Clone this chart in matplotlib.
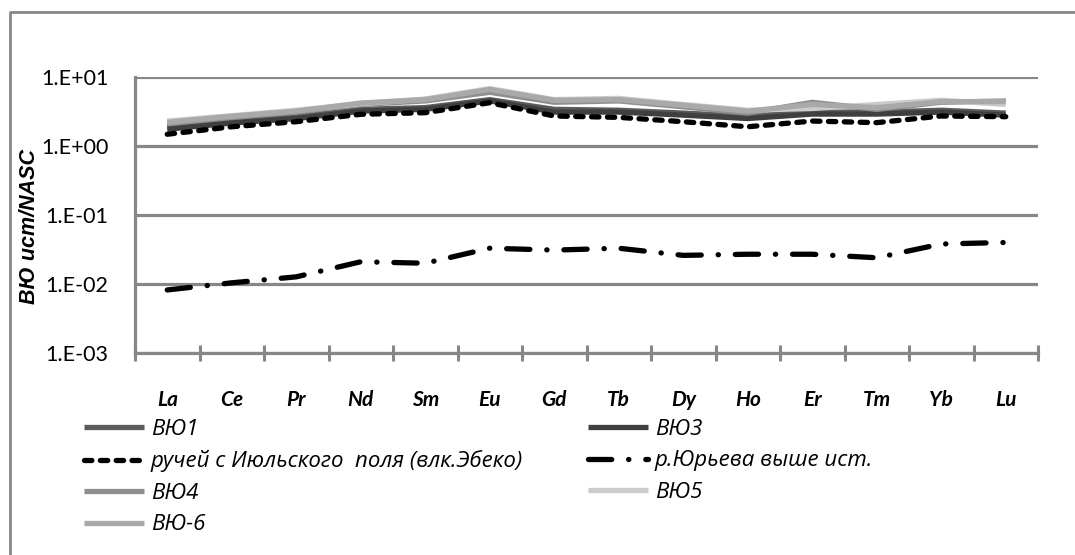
import matplotlib
matplotlib.use("Agg")
import matplotlib.pyplot as plt
from matplotlib.lines import Line2D
import numpy as np

categories = ["La", "Ce", "Pr", "Nd", "Sm", "Eu", "Gd", "Tb", "Dy", "Ho", "Er", "Tm", "Yb", "Lu"]

vyu1 = [1.9, 2.25, 2.65, 3.4, 3.6, 4.7, 3.4, 3.3, 3.0, 2.7, 3.1, 3.1, 3.3, 3.0]
vyu3 = [1.75, 2.15, 2.5, 3.2, 3.4, 4.5, 3.1, 3.1, 2.8, 2.5, 2.9, 2.9, 3.1, 2.8]
ruchey = [1.48, 1.9, 2.25, 2.88, 3.04, 4.24, 2.72, 2.6, 2.25, 1.9, 2.3, 2.18, 2.72, 2.66]
yurieva = [0.0082, 0.0104, 0.0127, 0.021, 0.020, 0.033, 0.031, 0.033, 0.026, 0.027, 0.027, 0.024, 0.038, 0.040]
vyu4 = [2.1, 2.6, 3.1, 4.0, 4.5, 6.0, 4.3, 4.5, 3.7, 3.0, 4.3, 3.4, 4.3, 4.5]
vyu5 = [2.3, 2.75, 3.3, 4.1, 4.8, 6.8, 4.7, 4.9, 4.0, 3.3, 3.5, 4.0, 4.6, 4.0]
vyu6 = [2.2, 2.7, 3.2, 4.2, 4.7, 6.6, 4.6, 4.7, 3.9, 3.2, 4.0, 3.6, 4.4, 4.4]

labels = ["ВЮ1", "ВЮ3", "ручей с Июльского  поля (влк.Эбеко)", "р.Юрьева выше ист.", "ВЮ4", "ВЮ5", "ВЮ-6"]
yticks = [1e-3, 1e-2, 1e-1, 1e0, 1e1]
ytick_labels = ["1.E-03", "1.E-02", "1.E-01", "1.E+00", "1.E+01"]

FONT = ["Lato", "DejaVu Sans"]
LEGFONT = ["Open Sans", "DejaVu Sans"]
GRID = "#878787"

fig = plt.figure(figsize=(10.75, 5.55), dpi=100)
ax = fig.add_axes([135/1075, 1-353/555, (1038-135)/1075, (353-77)/555])

x = np.arange(len(categories))
lw = 3.8
h1, = ax.plot(x, vyu1, color="#5b5b5b", lw=lw, solid_capstyle="butt", zorder=3)
h3, = ax.plot(x, vyu3, color="#3f3f3f", lw=lw, solid_capstyle="butt", zorder=3)
hr, = ax.plot(x, ruchey, color="black", lw=lw, linestyle=(0, (1.4, 1.6)),
              dash_capstyle="round", zorder=4)
hy, = ax.plot(x, yurieva, color="black", lw=lw, linestyle=(0, (4.4, 3.2, 0.05, 3.2)),
              dash_capstyle="round", zorder=4)
h4, = ax.plot(x, vyu4, color="#8f8f8f", lw=lw, solid_capstyle="butt", zorder=3)
h5, = ax.plot(x, vyu5, color="#cbcbcb", lw=lw, solid_capstyle="butt", zorder=3)
h6, = ax.plot(x, vyu6, color="#a9a9a9", lw=lw, solid_capstyle="butt", zorder=3)

ax.set_yscale("log")
ax.set_ylim(1e-3, 1e1)
ax.set_xlim(-0.5, len(categories) - 0.5)
ax.set_yticks(yticks)
ax.set_yticklabels(ytick_labels, fontfamily=FONT, fontsize=15.5)
ax.yaxis.set_minor_locator(matplotlib.ticker.NullLocator())
ax.tick_params(axis="y", length=0, pad=19)
ax.grid(axis="y", color=GRID, lw=2.3, zorder=1)

ax.set_xticks(np.arange(-0.5, len(categories)), minor=False)
ax.set_xticklabels([])
ax.tick_params(axis="x", which="major", direction="inout", length=12, width=2.2, color=GRID)
ax.set_xticks(x, minor=True)
ax.set_xticklabels(categories, minor=True, fontfamily=FONT, fontsize=15,
                   fontweight="bold", fontstyle="italic")
ax.tick_params(axis="x", which="minor", length=0, pad=27)

for s in ["top", "right"]:
    ax.spines[s].set_visible(False)
for s in ["left", "bottom"]:
    ax.spines[s].set_color(GRID)
    ax.spines[s].set_linewidth(2.3)

fig.text(30/1075, 1-226/555, "ВЮ ист/NASC", rotation=90, ha="center", va="center",
         family=["Liberation Sans", "DejaVu Sans"], fontsize=15.5,
         fontweight="bold", fontstyle="italic")

legprops = dict(family=LEGFONT, style="italic", size=16)
common = dict(frameon=False, handlelength=2.7, handletextpad=0.3, labelspacing=0.47,
              borderaxespad=0, borderpad=0, prop=legprops)
leg1 = fig.legend([h1, hr, h4, h6], [labels[0], labels[2], labels[4], labels[6]],
                  loc="upper left", bbox_to_anchor=(84/1075, 1-419/555), **common)
leg2 = fig.legend([h3, hy, h5], [labels[1], labels[3], labels[5]],
                  loc="upper left", bbox_to_anchor=(588/1075, 1-419/555), **common)

border = Line2D([9.5/1075, 9.5/1075, 1.0], [0.0, 1-11.5/555, 1-11.5/555],
                transform=fig.transFigure, color=GRID, lw=2.0)
fig.add_artist(border)

fig.savefig("out.png", dpi=100)
